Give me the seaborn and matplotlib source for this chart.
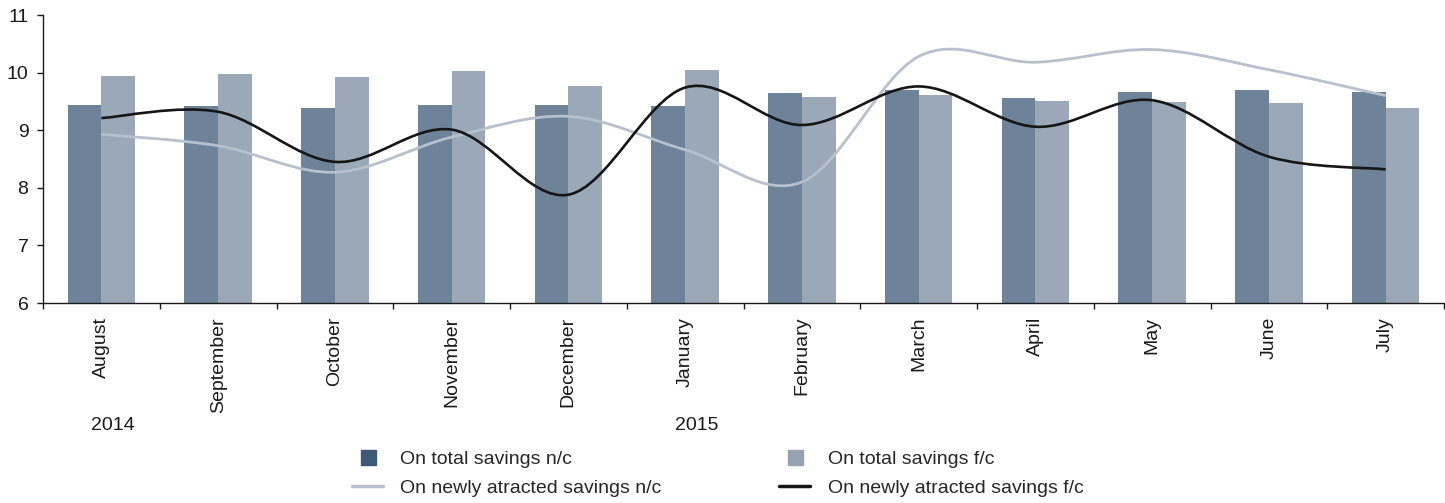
import numpy as np
import pandas as pd
import seaborn as sns
import matplotlib.pyplot as plt
from matplotlib.path import Path
from matplotlib.patches import PathPatch
from matplotlib.lines import Line2D


months = ['August', 'September', 'October', 'November', 'December', 'January',
          'February', 'March', 'April', 'May', 'June', 'July']
years = ['2014', '2015']
year_start = [0, 5]

total_nc = [9.44, 9.42, 9.38, 9.44, 9.44, 9.42, 9.65, 9.70, 9.56, 9.66, 9.70, 9.66]
total_fc = [9.94, 9.98, 9.92, 10.03, 9.77, 10.05, 9.57, 9.61, 9.51, 9.49, 9.47, 9.39]
newly_nc = [8.93, 8.73, 8.27, 8.88, 9.24, 8.66, 8.10, 10.28, 10.18, 10.40, 10.05, 9.60]
newly_fc = [9.21, 9.32, 8.45, 9.01, 7.88, 9.74, 9.09, 9.76, 9.06, 9.52, 8.54, 8.32]

labels = ['On total savings n/c', 'On total savings f/c',
          'On newly atracted savings n/c', 'On newly atracted savings f/c']

bar_dark = '#6e8399'
bar_light = '#9ba8b7'
leg_dark = '#3f5a78'
leg_light = '#96a2b2'
line_grey = '#b6c1cd'
line_black = '#161616'
ink = '#1a1a1a'
fs = 14


def smooth_path(xs, ys):
    # excel-like smoothed line: cubic bezier through the points
    pts = np.column_stack([xs, ys]).astype(float)
    n = len(pts)
    verts = [pts[0]]
    codes = [Path.MOVETO]
    for i in range(n - 1):
        p0 = pts[max(i - 1, 0)]
        p1 = pts[i]
        p2 = pts[i + 1]
        p3 = pts[min(i + 2, n - 1)]
        verts += [p1 + (p2 - p0) / 6, p2 - (p3 - p1) / 6, p2]
        codes += [Path.CURVE4] * 3
    return Path(verts, codes)


df = pd.DataFrame({
    'month': months * 2,
    'value': total_nc + total_fc,
    'series': [labels[0]] * 12 + [labels[1]] * 12,
})

sns.set_theme(style='white')
plt.rcParams['font.family'] = ['Liberation Sans', 'DejaVu Sans']
plt.rcParams['font.size'] = fs

fig = plt.figure(figsize=(14.45, 5.03), dpi=100)
ax = fig.add_axes([43 / 1445, 1 - 303 / 503, 1401 / 1445, 288 / 503])

sns.barplot(data=df, x='month', y='value', hue='series', order=months,
            palette=[bar_dark, bar_light], saturation=1, width=0.58, gap=0,
            linewidth=0, legend=False, ax=ax)

xs = np.arange(len(months))
ax.add_patch(PathPatch(smooth_path(xs, newly_nc), fill=False, ec=line_grey, lw=2.0,
                       capstyle='butt', zorder=3))
ax.add_patch(PathPatch(smooth_path(xs, newly_fc), fill=False, ec=line_black, lw=1.9,
                       capstyle='butt', zorder=4))

ax.set_xlim(-0.5, len(months) - 0.5)
ax.set_ylim(6, 11)
ax.set_yticks([6, 7, 8, 9, 10, 11])
ax.set_xlabel('')
ax.set_ylabel('')

ax.set_xticks(xs)
ax.set_xticklabels(months, rotation=90, fontsize=fs, color=ink)
ax.set_xticks(np.arange(-0.5, len(months), 1), minor=True)
ax.tick_params(axis='x', which='major', length=0, pad=10)
ax.tick_params(axis='x', which='minor', length=4.5, width=1, color=ink, direction='out')
ax.tick_params(axis='y', length=4.5, width=1, color=ink, direction='out', pad=6,
               labelsize=fs, labelcolor=ink)
ax.tick_params(bottom=True, left=True, which='both')

for side in ['top', 'right']:
    ax.spines[side].set_visible(False)
for side in ['left', 'bottom']:
    ax.spines[side].set_color(ink)
    ax.spines[side].set_linewidth(1.0)

for yr, idx in zip(years, year_start):
    ax.text(idx + 0.1, -0.425, yr, transform=ax.get_xaxis_transform(),
            ha='center', va='center', fontsize=fs, color=ink)

handles = [
    Line2D([], [], marker='s', markersize=10.8, color=leg_dark, linestyle='none'),
    Line2D([], [], color=line_grey, lw=2.5),
    Line2D([], [], marker='s', markersize=10.8, color=leg_light, linestyle='none'),
    Line2D([], [], color=line_black, lw=2.5),
]
fig.legend(handles, [labels[0], labels[2], labels[1], labels[3]], ncol=2,
           loc='upper left', bbox_to_anchor=(352 / 1445, 1 - 450 / 503),
           frameon=False, fontsize=fs, handlelength=1.6, handletextpad=0.88,
           columnspacing=6.06, labelspacing=0.6, borderpad=0, borderaxespad=0)

fig.savefig('out.png', dpi=100)
